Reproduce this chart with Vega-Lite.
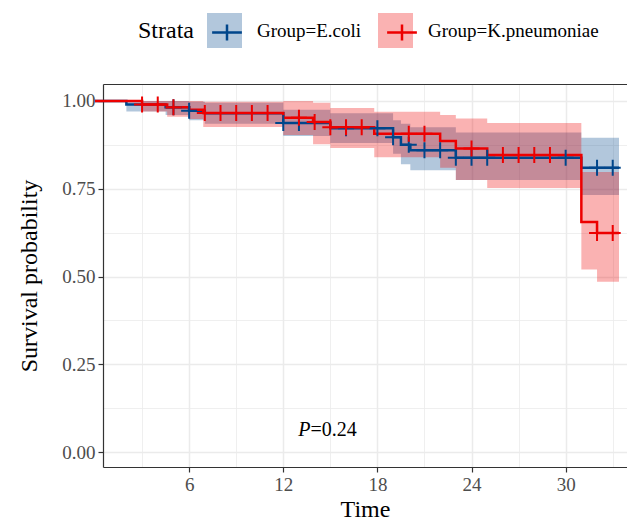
{
  "$schema": "https://vega.github.io/schema/vega-lite/v6.json",
  "width": 524,
  "height": 383,
  "autosize": {"type": "none"},
  "padding": {"left": 103, "top": 84, "right": 0, "bottom": 54},
  "background": "white",
  "config": {"view": {"stroke": null}, "font": "Liberation Serif", "axis": {"titleFont": "Liberation Serif", "labelFont": "Liberation Serif"}},
  "datasets": {
    "steps": [
      {"group": "E.coli", "time": 0, "surv": 1, "lower": 1, "upper": 1},
      {"group": "E.coli", "time": 2, "surv": 0.99, "lower": 0.97, "upper": 1},
      {"group": "E.coli", "time": 4.5, "surv": 0.982, "lower": 0.96, "upper": 1},
      {"group": "E.coli", "time": 6, "surv": 0.972, "lower": 0.945, "upper": 0.998},
      {"group": "E.coli", "time": 7, "surv": 0.965, "lower": 0.935, "upper": 0.995},
      {"group": "E.coli", "time": 12, "surv": 0.937, "lower": 0.9, "upper": 0.975},
      {"group": "E.coli", "time": 15, "surv": 0.922, "lower": 0.88, "upper": 0.965},
      {"group": "E.coli", "time": 19, "surv": 0.897, "lower": 0.85, "upper": 0.945},
      {"group": "E.coli", "time": 19.5, "surv": 0.875, "lower": 0.82, "upper": 0.935},
      {"group": "E.coli", "time": 20.1, "surv": 0.86, "lower": 0.803, "upper": 0.925},
      {"group": "E.coli", "time": 23, "surv": 0.838, "lower": 0.775, "upper": 0.91},
      {"group": "E.coli", "time": 31, "surv": 0.81, "lower": 0.732, "upper": 0.895},
      {"group": "E.coli", "time": 33.4, "surv": 0.81, "lower": 0.732, "upper": 0.895},
      {"group": "K.pneumoniae", "time": 0, "surv": 1, "lower": 1, "upper": 1},
      {"group": "K.pneumoniae", "time": 3, "surv": 0.99, "lower": 0.97, "upper": 1},
      {"group": "K.pneumoniae", "time": 4.6, "surv": 0.982, "lower": 0.955, "upper": 1},
      {"group": "K.pneumoniae", "time": 6, "surv": 0.975, "lower": 0.949, "upper": 1},
      {"group": "K.pneumoniae", "time": 6.9, "surv": 0.966, "lower": 0.926, "upper": 0.998},
      {"group": "K.pneumoniae", "time": 12, "surv": 0.952, "lower": 0.903, "upper": 1},
      {"group": "K.pneumoniae", "time": 13.9, "surv": 0.94, "lower": 0.877, "upper": 0.995},
      {"group": "K.pneumoniae", "time": 15, "surv": 0.925, "lower": 0.866, "upper": 0.98},
      {"group": "K.pneumoniae", "time": 17.8, "surv": 0.907, "lower": 0.84, "upper": 0.969},
      {"group": "K.pneumoniae", "time": 22, "surv": 0.886, "lower": 0.81, "upper": 0.96},
      {"group": "K.pneumoniae", "time": 23, "surv": 0.865, "lower": 0.775, "upper": 0.95},
      {"group": "K.pneumoniae", "time": 25, "surv": 0.846, "lower": 0.752, "upper": 0.937},
      {"group": "K.pneumoniae", "time": 31, "surv": 0.655, "lower": 0.52, "upper": 0.798},
      {"group": "K.pneumoniae", "time": 32, "surv": 0.624, "lower": 0.485, "upper": 0.798},
      {"group": "K.pneumoniae", "time": 33.4, "surv": 0.624, "lower": 0.485, "upper": 0.798}
    ],
    "censor": [
      {"group": "E.coli", "time": 5, "surv": 0.982},
      {"group": "E.coli", "time": 6, "surv": 0.972},
      {"group": "E.coli", "time": 12, "surv": 0.937},
      {"group": "E.coli", "time": 13, "surv": 0.937},
      {"group": "E.coli", "time": 16, "surv": 0.922},
      {"group": "E.coli", "time": 18, "surv": 0.922},
      {"group": "E.coli", "time": 19, "surv": 0.897},
      {"group": "E.coli", "time": 20, "surv": 0.875},
      {"group": "E.coli", "time": 21, "surv": 0.86},
      {"group": "E.coli", "time": 22, "surv": 0.86},
      {"group": "E.coli", "time": 23, "surv": 0.838},
      {"group": "E.coli", "time": 24, "surv": 0.838},
      {"group": "E.coli", "time": 25, "surv": 0.838},
      {"group": "E.coli", "time": 30, "surv": 0.838},
      {"group": "E.coli", "time": 32, "surv": 0.81},
      {"group": "E.coli", "time": 33, "surv": 0.81},
      {"group": "K.pneumoniae", "time": 3, "surv": 0.99},
      {"group": "K.pneumoniae", "time": 4, "surv": 0.99},
      {"group": "K.pneumoniae", "time": 5, "surv": 0.982},
      {"group": "K.pneumoniae", "time": 7, "surv": 0.966},
      {"group": "K.pneumoniae", "time": 8, "surv": 0.966},
      {"group": "K.pneumoniae", "time": 9, "surv": 0.966},
      {"group": "K.pneumoniae", "time": 10, "surv": 0.966},
      {"group": "K.pneumoniae", "time": 11, "surv": 0.966},
      {"group": "K.pneumoniae", "time": 13, "surv": 0.952},
      {"group": "K.pneumoniae", "time": 14, "surv": 0.94},
      {"group": "K.pneumoniae", "time": 15, "surv": 0.925},
      {"group": "K.pneumoniae", "time": 16, "surv": 0.925},
      {"group": "K.pneumoniae", "time": 17, "surv": 0.925},
      {"group": "K.pneumoniae", "time": 20, "surv": 0.907},
      {"group": "K.pneumoniae", "time": 21, "surv": 0.907},
      {"group": "K.pneumoniae", "time": 24, "surv": 0.865},
      {"group": "K.pneumoniae", "time": 26, "surv": 0.846},
      {"group": "K.pneumoniae", "time": 27, "surv": 0.846},
      {"group": "K.pneumoniae", "time": 28, "surv": 0.846},
      {"group": "K.pneumoniae", "time": 29, "surv": 0.846},
      {"group": "K.pneumoniae", "time": 32, "surv": 0.624},
      {"group": "K.pneumoniae", "time": 33, "surv": 0.624}
    ]
  },
  "resolve": {"axis": {"x": "independent", "y": "independent"}},
  "layer": [
    {
      "data": {"name": "steps"},
      "mark": {"type": "area", "interpolate": "step-after", "opacity": 0.3},
      "encoding": {
        "x": {
          "field": "time", "type": "quantitative",
          "scale": {"domain": [0.51, 33.91], "nice": false, "zero": false},
          "axis": {
            "orient": "bottom", "values": [6, 12, 18, 24, 30], "title": "Time",
            "grid": true, "gridColor": "#EBEBEB", "gridWidth": 1.5,
            "domainColor": "#333333", "domainWidth": 1.2, "tickColor": "#333333", "tickWidth": 1.2, "tickSize": 5,
            "labelFontSize": 19, "labelColor": "#4D4D4D", "labelPadding": 3,
            "titleFontSize": 24, "titleFontWeight": "normal", "titleColor": "#000000", "titlePadding": 3
          }
        },
        "y": {
          "field": "lower", "type": "quantitative",
          "scale": {"domain": [-0.0427, 1.0484], "nice": false, "zero": false},
          "axis": {
            "orient": "left", "values": [0, 0.25, 0.5, 0.75, 1], "format": ".2f", "title": "Survival probability",
            "grid": true, "gridColor": "#EBEBEB", "gridWidth": 1.5,
            "domainColor": "#333333", "domainWidth": 1.2, "tickColor": "#333333", "tickWidth": 1.2, "tickSize": 5,
            "labelFontSize": 19, "labelColor": "#4D4D4D", "labelPadding": 3,
            "titleFontSize": 24, "titleFontWeight": "normal", "titleColor": "#000000", "titlePadding": 20
          }
        },
        "y2": {"field": "upper"},
        "fill": {
          "field": "group", "type": "nominal",
          "scale": {"range": ["#00468B", "#ED0000"]},
          "legend": {
            "orient": "none", "legendX": 35, "legendY": -71, "direction": "horizontal",
            "title": "Strata", "titleOrient": "left", "titleFontSize": 24, "titleFontWeight": "normal",
            "titleColor": "#000000", "titleFont": "Liberation Serif", "titlePadding": 13, "titleBaseline": "middle", "titleAnchor": "middle",
            "symbolType": "square", "symbolSize": 1225, "symbolOpacity": 0.3, "symbolStrokeWidth": 0,
            "labelExpr": "'Group=' + datum.label",
            "labelFontSize": 19, "labelFont": "Liberation Serif", "labelColor": "#000000", "labelOffset": 15,
            "labelLimit": 400, "columnPadding": 16, "zindex": 0
          }
        }
      }
    },
    {
      "data": {"name": "steps"},
      "mark": {"type": "line", "interpolate": "step-after", "strokeWidth": 2.5},
      "encoding": {
        "x": {
          "field": "time", "type": "quantitative",
          "scale": {"domain": [0.51, 33.91], "nice": false, "zero": false},
          "axis": {
            "orient": "top", "values": [3, 9, 15, 21, 27, 33], "title": null,
            "grid": true, "gridColor": "#EBEBEB", "gridWidth": 0.8,
            "labels": false, "ticks": false, "domain": true, "domainColor": "#333333", "domainWidth": 1.2
          }
        },
        "y": {
          "field": "surv", "type": "quantitative",
          "scale": {"domain": [-0.0427, 1.0484], "nice": false, "zero": false},
          "axis": {
            "orient": "right", "values": [0.125, 0.375, 0.625, 0.875], "title": null,
            "grid": true, "gridColor": "#EBEBEB", "gridWidth": 0.8,
            "labels": false, "ticks": false, "domain": false
          }
        },
        "color": {
          "field": "group", "type": "nominal",
          "scale": {"range": ["#00468B", "#ED0000"]},
          "legend": {
            "orient": "none", "legendX": 105, "legendY": -71, "direction": "horizontal",
            "title": null,
            "symbolType": "M-0.85,0H0.85M0,-0.46V0.46", "symbolSize": 1225, "symbolStrokeWidth": 2.5, "symbolFillColor": "transparent",
            "labelExpr": "''", "labelFontSize": 19, "labelOffset": 0,
            "columnPadding": 135, "zindex": 1
          }
        }
      }
    },
    {
      "data": {"name": "censor"},
      "mark": {"type": "point", "shape": "M-1,0H1M0,-1V1", "size": 256, "filled": false, "strokeWidth": 2, "opacity": 1},
      "encoding": {
        "x": {"field": "time", "type": "quantitative", "axis": null},
        "y": {"field": "surv", "type": "quantitative", "axis": null},
        "color": {"field": "group", "type": "nominal"}
      }
    },
    {
      "data": {"values": [{}]},
      "mark": {"type": "text", "text": "P", "fontStyle": "italic", "fontSize": 20, "align": "right", "baseline": "middle", "font": "Liberation Serif", "color": "#000000"},
      "encoding": {
        "x": {"datum": 13.73, "type": "quantitative", "axis": null},
        "y": {"datum": 0.063, "type": "quantitative", "axis": null}
      }
    },
    {
      "data": {"values": [{}]},
      "mark": {"type": "text", "text": "=0.24", "fontSize": 20, "align": "left", "baseline": "middle", "font": "Liberation Serif", "color": "#000000"},
      "encoding": {
        "x": {"datum": 13.73, "type": "quantitative", "axis": null},
        "y": {"datum": 0.063, "type": "quantitative", "axis": null}
      }
    }
  ]
}
